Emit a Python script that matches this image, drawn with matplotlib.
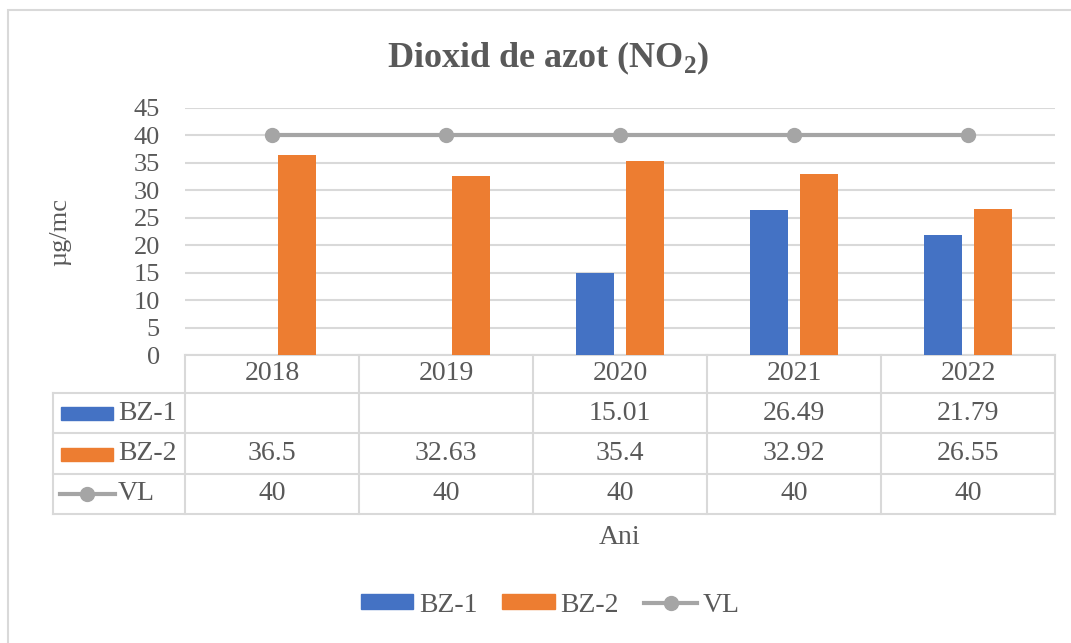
import matplotlib.pyplot as plt
import matplotlib.transforms as mtransforms
from matplotlib.patches import Rectangle
from matplotlib.lines import Line2D
import numpy as np

plt.rcParams['font.family'] = ['Liberation Serif', 'DejaVu Serif']
plt.rcParams['mathtext.fontset'] = 'custom'
plt.rcParams['mathtext.rm'] = 'Liberation Serif'
plt.rcParams['mathtext.bf'] = 'Liberation Serif:bold'

years = ["2018", "2019", "2020", "2021", "2022"]
bz1 = [np.nan, np.nan, 15.01, 26.49, 21.79]
bz2 = [36.5, 32.63, 35.4, 32.92, 26.55]
vl = [40, 40, 40, 40, 40]
bz1_labels = ["", "", "15.01", "26.49", "21.79"]
bz2_labels = ["36.5", "32.63", "35.4", "32.92", "26.55"]
vl_labels = ["40", "40", "40", "40", "40"]

c_bz1 = "#4472C4"
c_bz2 = "#ED7D31"
c_vl = "#A5A5A5"
c_txt = "#595959"
c_grid = "#D9D9D9"
fs = 20

W, H = 1071, 643
fig = plt.figure(figsize=(W / 100, H / 100), dpi=100)

# plot area in pixels: x 185..1055, y 108..355
ax = fig.add_axes([185 / W, 1 - 355 / H, 870 / W, 247 / H])
x = np.arange(len(years))
bw = 0.22
off = 0.144
ax.bar(x - off, bz1, bw, color=c_bz1, zorder=3)
ax.bar(x + off, bz2, bw, color=c_bz2, zorder=3)
ax.plot(x, vl, color=c_vl, lw=3, marker='o', ms=10, zorder=4)

ax.set_xlim(-0.5, len(years) - 0.5)
ax.set_ylim(0, 45)
ax.set_yticks(range(0, 46, 5))
ax.set_xticks([])
ax.tick_params(axis='y', length=0, labelsize=19, labelcolor=c_txt, pad=18)
for s in ax.spines.values():
    s.set_visible(False)
ax.grid(axis='y', color=c_grid, lw=1.5, zorder=0)
ax.set_ylabel("µg/mc", fontsize=19, color=c_txt)
ax.yaxis.set_label_coords(-(185 - 71) / 870, 0.5)

# data table below the plot
def fy(py):
    return 1 - py / H

tr = mtransforms.blended_transform_factory(ax.transData, fig.transFigure)
row_y = [355, 393, 433, 474, 514]
x_left = -0.5 - 132 / 174
lkw = dict(color=c_grid, lw=1.5, transform=tr, clip_on=False)
# horizontal lines
ax.add_line(Line2D([-0.5, 4.5], [fy(355)] * 2, **lkw))
for py in row_y[1:]:
    ax.add_line(Line2D([x_left, 4.5], [fy(py)] * 2, **lkw))
# vertical lines
for xb in np.arange(-0.5, len(years)):
    ax.add_line(Line2D([xb, xb], [fy(355), fy(514)], **lkw))
ax.add_line(Line2D([x_left, x_left], [fy(393), fy(514)], **lkw))

tkw = dict(transform=tr, ha='center', va='center', fontsize=fs, color=c_txt, clip_on=False)
for i, yr in enumerate(years):
    ax.text(i, fy(374), yr, **tkw)
    ax.text(i, fy(413), bz1_labels[i], **tkw)
    ax.text(i, fy(453.5), bz2_labels[i], **tkw)
    ax.text(i, fy(494), vl_labels[i], **tkw)

# row headers with legend keys
fig.add_artist(Rectangle((61 / W, fy(420)), 52 / W, 13 / H, color=c_bz1, transform=fig.transFigure))
fig.add_artist(Rectangle((61 / W, fy(460.5)), 52 / W, 13 / H, color=c_bz2, transform=fig.transFigure))
fig.add_artist(Line2D([60 / W, 115 / W], [fy(494)] * 2, color=c_vl, lw=3, transform=fig.transFigure))
fig.add_artist(Line2D([87 / W], [fy(494)], color=c_vl, marker='o', ms=10, transform=fig.transFigure))
for py, lab in [(413, "BZ-1"), (453.5, "BZ-2"), (494, "VL")]:
    fig.text(118 / W, fy(py), lab, ha='left', va='center', fontsize=fs, color=c_txt)

fig.text(620 / W, fy(537), "Ani", ha='center', va='center', fontsize=fs, color=c_txt)
fig.text(548 / W, fy(58), r"Dioxid de azot (NO$_\mathbf{2}$)", ha='center', va='center',
         fontsize=26, fontweight='bold', color=c_txt)

handles = [Rectangle((0, 0), 1, 1, color=c_bz1),
           Rectangle((0, 0), 1, 1, color=c_bz2),
           Line2D([], [], color=c_vl, lw=3, marker='o', ms=10)]
leg = fig.legend(handles, ["BZ-1", "BZ-2", "VL"], loc='center', ncol=3,
                 bbox_to_anchor=(550 / W, fy(605)), frameon=False, fontsize=fs,
                 handlelength=1.9, handleheight=0.48, handletextpad=0.2, columnspacing=0.9)
for t in leg.get_texts():
    t.set_color(c_txt)

# outer chart border
fig.add_artist(Rectangle((8 / W, -0.1), 1.2, fy(10) + 0.1, fill=False, ec=c_grid, lw=1.5,
                         transform=fig.transFigure))

fig.savefig("out.png", dpi=100)
